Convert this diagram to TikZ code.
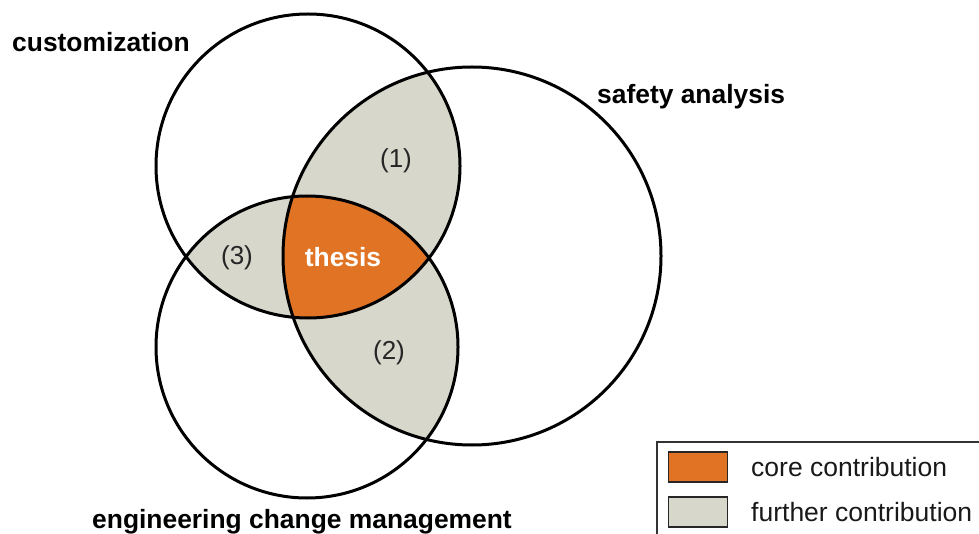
\documentclass[tikz,border=0pt]{standalone}
\usepackage{fontspec}
\setmainfont{Liberation Sans}
\definecolor{coreor}{RGB}{224,116,36}
\definecolor{furthergr}{RGB}{216,215,203}
\begin{document}
\begin{tikzpicture}[x=1pt,y=-1pt,
  ring/.style={draw=black,line width=3pt},
  lbl/.style={font=\fontsize{26.4}{30}\selectfont\bfseries,inner sep=0pt},
  num/.style={font=\fontsize{26}{30}\selectfont,inner sep=0pt,text=black!85},
  legtext/.style={font=\fontsize{26.5}{30}\selectfont,inner sep=0pt,anchor=base west,text=black!90},
  swatch/.style={draw=black!85,line width=1.8pt,minimum width=59pt,minimum height=30pt,inner sep=0pt}]
\useasboundingbox (0,0) rectangle (979,534);
\coordinate (cC) at (308,166);
\coordinate (cS) at (472,256);
\coordinate (cE) at (307,347);
% pairwise intersections
\begin{scope}\clip (cC) circle[radius=152pt]; \fill[furthergr] (cS) circle[radius=189pt];\end{scope}
\begin{scope}\clip (cS) circle[radius=189pt]; \fill[furthergr] (cE) circle[radius=151pt];\end{scope}
\begin{scope}\clip (cC) circle[radius=152pt]; \fill[furthergr] (cE) circle[radius=151pt];\end{scope}
% triple intersection
\begin{scope}\clip (cC) circle[radius=152pt]; \clip (cS) circle[radius=189pt]; \fill[coreor] (cE) circle[radius=151pt];\end{scope}
% circles
\draw[ring] (cC) circle[radius=152pt];
\draw[ring] (cS) circle[radius=189pt];
\draw[ring] (cE) circle[radius=151pt];
% labels
\node[lbl,anchor=base west] (lc) at (12,52) {customization};
\node[lbl,anchor=base west] (ls) at (597,104) {safety analysis};
\node[lbl,anchor=base west] (le) at (92,528) {engineering change management};
\node[lbl,text=white,anchor=base] (th) at (343,267) {thesis};
\node[num] (n1) at (396,161) {(1)};
\node[num] (n2) at (389,353) {(2)};
\node[num] (n3) at (237,258) {(3)};
% legend
\draw[draw=black!80,line width=1.5pt] (657,442) rectangle (995,550);
\node[swatch,fill=coreor] (sw1) at (698,467) {};
\node[swatch,fill=furthergr] (sw2) at (698,512) {};
\node[legtext] (t1) at (751,476) {core contribution};
\node[legtext] (t2) at (751,521) {further contribution};
\end{tikzpicture}
\end{document}
